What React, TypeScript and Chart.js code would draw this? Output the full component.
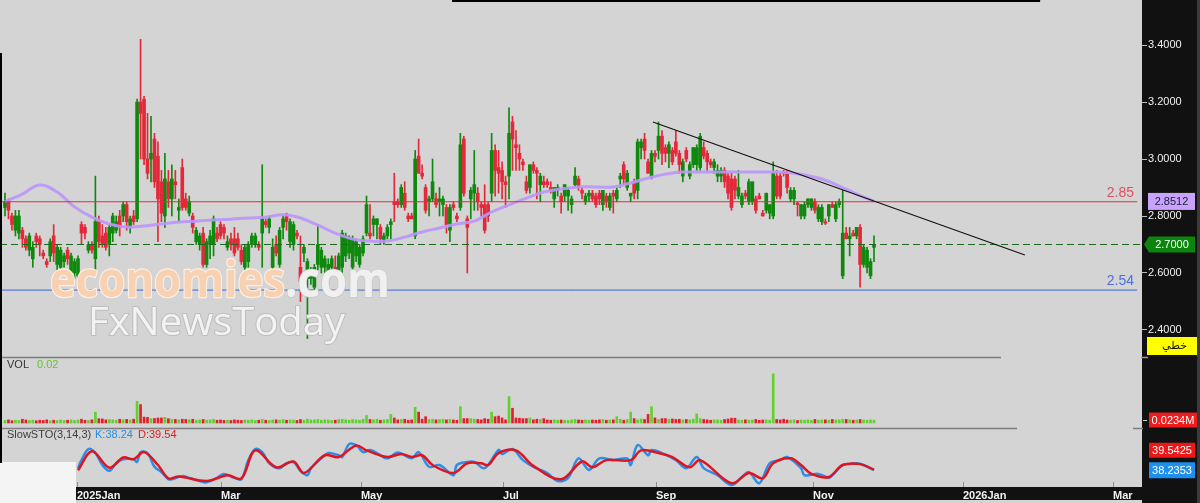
import React, { useEffect, useRef } from "react";
import { Chart, registerables } from "chart.js";

Chart.register(...registerables);
Chart.defaults.font.family = '"Liberation Sans", Arial, sans-serif';

// ---------- DATA ----------
// [open, high, low, close] per trading session (index 0 = mid Dec 2024)
const candles: [number, number, number, number][] = [
  [2.83,2.88,2.80,2.85],[2.85,2.86,2.79,2.82],[2.80,2.81,2.75,2.77],[2.75,2.82,2.73,2.80],[2.74,2.82,2.72,2.80],
  [2.75,2.76,2.69,2.72],[2.72,2.73,2.68,2.69],[2.68,2.74,2.66,2.73],[2.65,2.71,2.62,2.69],[2.73,2.74,2.69,2.71],
  [2.72,2.73,2.66,2.70],[2.67,2.68,2.65,2.66],[2.64,2.65,2.62,2.63],[2.66,2.72,2.64,2.71],[2.73,2.77,2.64,2.67],
  [2.63,2.70,2.61,2.69],[2.62,2.69,2.60,2.68],[2.64,2.67,2.62,2.66],[2.68,2.69,2.63,2.65],[2.60,2.67,2.59,2.66],
  [2.60,2.65,2.58,2.64],[2.59,2.66,2.58,2.65],[2.77,2.78,2.70,2.74],[2.76,2.77,2.72,2.74],[2.68,2.71,2.67,2.70],
  [2.70,2.71,2.67,2.68],[2.65,2.94,2.61,2.78],[2.78,2.80,2.69,2.71],[2.73,2.77,2.69,2.70],[2.74,2.76,2.68,2.69],
  [2.70,2.77,2.66,2.76],[2.74,2.81,2.71,2.80],[2.75,2.80,2.74,2.78],[2.80,2.82,2.73,2.76],[2.80,2.85,2.78,2.84],
  [2.84,2.85,2.75,2.78],[2.76,2.80,2.74,2.79],[2.80,2.82,2.77,2.78],[2.79,3.21,2.78,3.20],[3.20,3.42,3.00,3.16],
  [3.21,3.22,2.98,3.00],[3.00,3.16,2.93,2.95],[3.00,3.15,2.92,3.02],[3.07,3.09,2.90,2.92],[3.01,3.06,2.71,2.86],
  [2.92,2.96,2.78,2.81],[2.80,3.02,2.76,2.93],[2.92,2.96,2.83,2.86],[2.86,2.98,2.80,2.93],[2.92,2.96,2.86,2.91],
  [2.82,2.86,2.78,2.83],[2.97,3.00,2.82,2.83],[2.86,2.88,2.82,2.83],[2.81,2.87,2.80,2.85],[2.80,2.81,2.74,2.76],
  [2.71,2.76,2.70,2.75],[2.70,2.74,2.68,2.73],[2.74,2.76,2.62,2.63],[2.63,2.72,2.62,2.71],[2.70,2.75,2.65,2.73],
  [2.70,2.80,2.66,2.79],[2.74,2.76,2.71,2.72],[2.77,2.78,2.72,2.73],[2.76,2.77,2.72,2.74],[2.69,2.73,2.68,2.71],
  [2.72,2.74,2.68,2.70],[2.72,2.76,2.66,2.67],[2.72,2.74,2.68,2.69],[2.68,2.70,2.63,2.64],[2.62,2.70,2.60,2.69],
  [2.64,2.71,2.62,2.70],[2.70,2.74,2.69,2.73],[2.70,2.74,2.69,2.73],[2.70,2.71,2.68,2.69],[2.74,2.98,2.62,2.79],
  [2.78,2.79,2.76,2.77],[2.76,2.80,2.74,2.79],[2.62,2.72,2.60,2.69],[2.70,2.73,2.66,2.67],[2.63,2.76,2.62,2.75],
  [2.76,2.80,2.72,2.79],[2.80,2.81,2.75,2.78],[2.71,2.79,2.69,2.78],[2.70,2.78,2.68,2.77],[2.74,2.75,2.72,2.73],
  [2.62,2.73,2.50,2.57],[2.67,2.70,2.64,2.69],[2.58,2.65,2.37,2.64],[2.58,2.62,2.56,2.61],[2.55,2.63,2.54,2.62],
  [2.63,2.77,2.61,2.70],[2.62,2.69,2.60,2.68],[2.62,2.66,2.60,2.65],[2.58,2.65,2.56,2.63],[2.62,2.66,2.60,2.65],
  [2.62,2.66,2.60,2.61],[2.61,2.67,2.59,2.66],[2.62,2.75,2.60,2.74],[2.66,2.74,2.64,2.73],[2.67,2.73,2.65,2.72],
  [2.62,2.73,2.61,2.72],[2.66,2.72,2.64,2.71],[2.63,2.70,2.62,2.69],[2.67,2.73,2.66,2.72],[2.74,2.87,2.73,2.84],
  [2.74,2.84,2.72,2.73],[2.77,2.80,2.73,2.79],[2.77,2.79,2.72,2.79],[2.76,2.77,2.70,2.72],[2.71,2.74,2.70,2.73],
  [2.73,2.77,2.72,2.76],[2.77,2.79,2.72,2.78],[2.85,2.95,2.78,2.84],[2.85,2.86,2.83,2.84],[2.84,2.91,2.83,2.90],
  [2.88,2.92,2.82,2.83],[2.80,2.81,2.78,2.79],[2.80,2.81,2.79,2.79],[2.73,3.03,2.72,3.00],[3.01,3.07,2.95,2.95],
  [2.95,2.98,2.93,2.94],[2.90,2.91,2.81,2.82],[2.85,2.87,2.80,2.86],[2.86,3.00,2.85,2.92],[2.86,2.88,2.83,2.84],
  [2.85,2.90,2.80,2.86],[2.84,2.87,2.80,2.86],[2.83,2.84,2.74,2.77],[2.75,2.84,2.71,2.83],[2.84,2.85,2.82,2.83],
  [2.80,2.81,2.78,2.79],[2.83,3.09,2.82,3.05],[3.07,3.08,2.87,2.88],[2.79,2.80,2.60,2.76],[2.86,2.90,2.79,2.89],
  [2.88,3.03,2.82,2.91],[2.88,2.90,2.82,2.85],[2.84,2.85,2.80,2.83],[2.84,2.91,2.74,2.75],[2.84,2.85,2.78,2.80],
  [2.88,3.09,2.85,3.03],[3.03,3.05,2.87,2.96],[2.97,3.03,2.88,2.95],[2.96,2.99,2.86,2.92],[2.92,2.94,2.83,2.91],
  [2.94,3.18,2.86,3.09],[3.13,3.15,2.96,3.07],[3.05,3.10,2.96,3.04],[3.02,3.05,2.96,3.00],[2.99,3.00,2.96,2.98],
  [2.92,2.94,2.88,2.89],[2.90,2.98,2.88,2.98],[2.98,2.99,2.95,2.96],[2.96,2.97,2.86,2.95],[2.91,2.95,2.85,2.94],
  [2.92,2.94,2.90,2.91],[2.92,2.93,2.90,2.91],[2.90,2.92,2.88,2.89],[2.86,2.90,2.83,2.90],[2.89,2.91,2.87,2.90],
  [2.87,2.88,2.81,2.85],[2.87,2.91,2.85,2.91],[2.87,2.90,2.82,2.89],[2.84,2.87,2.81,2.86],[2.91,2.97,2.90,2.94],
  [2.93,2.94,2.89,2.90],[2.89,2.90,2.86,2.88],[2.85,2.88,2.84,2.87],[2.87,2.89,2.85,2.88],[2.88,2.89,2.85,2.86],
  [2.87,2.88,2.83,2.84],[2.88,2.89,2.84,2.86],[2.84,2.89,2.82,2.89],[2.87,2.88,2.83,2.85],[2.83,2.88,2.82,2.87],
  [2.88,2.89,2.81,2.87],[2.86,2.90,2.85,2.89],[2.93,2.95,2.90,2.94],[2.98,2.99,2.91,2.93],[2.90,2.96,2.89,2.95],
  [2.87,2.88,2.85,2.88],[2.92,2.93,2.86,2.88],[2.89,3.07,2.86,3.06],[3.04,3.07,3.00,3.06],[3.07,3.09,3.00,3.03],
  [2.99,3.00,2.95,2.95],[2.94,3.03,2.93,3.02],[3.02,3.03,2.99,3.01],[3.03,3.13,3.00,3.08],[3.08,3.10,2.98,3.02],
  [3.04,3.05,2.99,3.02],[3.02,3.06,2.97,3.05],[3.03,3.04,2.98,2.99],[3.06,3.10,3.01,3.02],[3.02,3.03,2.95,2.98],
  [2.94,3.00,2.92,2.99],[3.03,3.04,2.99,3.00],[2.94,2.99,2.93,2.98],[2.98,3.04,2.97,3.04],[2.98,3.05,2.96,3.04],
  [2.97,3.09,2.96,3.08],[3.04,3.06,3.00,3.01],[3.02,3.03,2.96,2.99],[2.99,3.00,2.97,2.98],[2.97,3.00,2.95,2.99],
  [2.94,2.98,2.92,2.96],[2.94,2.97,2.92,2.96],[2.96,2.97,2.90,2.92],[2.94,2.95,2.86,2.88],[2.93,2.95,2.82,2.83],
  [2.93,2.94,2.86,2.89],[2.87,2.96,2.86,2.90],[2.84,2.88,2.83,2.87],[2.88,2.89,2.86,2.87],[2.85,2.93,2.84,2.92],
  [2.85,2.92,2.84,2.92],[2.86,2.87,2.81,2.82],[2.87,2.88,2.86,2.86],[2.81,2.82,2.80,2.80],[2.82,2.88,2.81,2.88],
  [2.81,2.84,2.79,2.84],[2.80,2.99,2.79,2.95],[2.94,2.96,2.86,2.87],[2.94,2.95,2.86,2.87],[2.955,2.96,2.94,2.95],
  [2.95,2.96,2.88,2.90],[2.86,2.90,2.85,2.89],[2.86,2.90,2.84,2.89],[2.845,2.85,2.80,2.84],[2.80,2.84,2.79,2.84],
  [2.80,2.85,2.79,2.84],[2.84,2.86,2.83,2.86],[2.83,2.86,2.82,2.86],[2.85,2.86,2.81,2.82],[2.79,2.84,2.78,2.83],
  [2.78,2.84,2.77,2.83],[2.78,2.79,2.77,2.775],[2.80,2.84,2.78,2.84],[2.84,2.85,2.83,2.83],[2.79,2.85,2.78,2.84],
  [2.84,2.86,2.83,2.85],[2.59,2.89,2.58,2.74],[2.74,2.76,2.72,2.72],[2.72,2.76,2.66,2.73],[2.74,2.75,2.73,2.73],
  [2.73,2.76,2.72,2.76],[2.76,2.77,2.55,2.63],[2.63,2.70,2.62,2.69],[2.62,2.69,2.60,2.68],[2.59,2.65,2.58,2.64],
  [2.69,2.73,2.64,2.70],
];

// volume in millions, one per session
const volumes: number[] = [
  0.02,0.025,0.018,0.022,0.02,0.03,0.024,0.02,0.022,0.018,
  0.022,0.02,0.025,0.018,0.022,0.02,0.024,0.02,0.022,0.025,
  0.02,0.024,0.03,0.022,0.02,0.025,0.086,0.034,0.032,0.025,
  0.028,0.025,0.022,0.03,0.026,0.028,0.024,0.03,0.172,0.146,
  0.047,0.045,0.035,0.036,0.04,0.04,0.045,0.034,0.03,0.028,
  0.025,0.03,0.028,0.025,0.03,0.022,0.024,0.028,0.022,0.025,
  0.03,0.022,0.024,0.02,0.022,0.02,0.025,0.022,0.02,0.024,
  0.022,0.025,0.02,0.022,0.03,0.022,0.02,0.024,0.025,0.022,
  0.028,0.022,0.025,0.024,0.02,0.028,0.022,0.03,0.024,0.025,
  0.028,0.022,0.025,0.024,0.02,0.022,0.028,0.03,0.025,0.022,
  0.028,0.024,0.022,0.03,0.06,0.028,0.025,0.03,0.022,0.025,
  0.028,0.068,0.04,0.025,0.028,0.03,0.022,0.025,0.125,0.086,
  0.03,0.05,0.028,0.03,0.025,0.028,0.03,0.025,0.028,0.024,
  0.022,0.13,0.035,0.035,0.035,0.03,0.028,0.025,0.035,0.03,
  0.086,0.05,0.055,0.04,0.025,0.21,0.117,0.04,0.038,0.035,
  0.035,0.04,0.025,0.03,0.028,0.035,0.024,0.022,0.025,0.022,
  0.024,0.022,0.02,0.025,0.028,0.024,0.022,0.025,0.022,0.024,
  0.022,0.025,0.028,0.022,0.024,0.025,0.05,0.03,0.022,0.028,
  0.086,0.035,0.025,0.032,0.028,0.068,0.13,0.04,0.028,0.035,
  0.035,0.03,0.032,0.028,0.03,0.024,0.028,0.025,0.03,0.072,
  0.035,0.028,0.025,0.022,0.025,0.024,0.022,0.028,0.032,0.038,
  0.038,0.024,0.022,0.025,0.022,0.024,0.028,0.022,0.024,0.025,
  0.022,0.39,0.028,0.025,0.03,0.024,0.022,0.025,0.02,0.024,
  0.022,0.025,0.02,0.028,0.022,0.024,0.025,0.022,0.028,0.024,
  0.025,0.03,0.028,0.025,0.022,0.024,0.028,0.024,0.022,0.025,
  0.0234,
];

// moving average, one reading every 5 sessions
const maStep = 5;
const maValues: number[] = [
  2.85,2.877,2.909,2.884,2.832,2.796,2.772,2.761,2.765,2.772,
  2.779,2.782,2.786,2.789,2.793,2.796,2.804,2.793,2.768,2.740,
  2.719,2.712,2.712,2.726,2.744,2.758,2.772,2.782,2.814,2.839,
  2.863,2.884,2.895,2.902,2.902,2.902,2.916,2.933,2.947,2.954,
  2.954,2.954,2.954,2.954,2.954,2.953,2.944,2.930,2.905,2.877,
  2.8512,
];

// Slow stochastic readings (session index, value)
const kIdx = [21,22,24,26,28,30,32,34,37,38,39,41,43,45,47,48,51,53,56,58,61,63,66,68,70,72,74,76,79,81,83,85,87,88,91,93,96,97,99,101,103,105,107,110,113,117,119,122,125,129,130,133,135,138,142,143,146,149,152,156,159,162,165,168,171,175,179,180,182,185,186,189,193,196,199,201,205,209,212,214,217,220,223,225,229,230,234,237,238,241,243,245,247,250];
const kVals = [42.5,61,86,77,50,37,54,63,63,57,79,77,46,34,18,18,25,21,14,11,21,30,21,18,61,86,79,54,43,54,57,37,27,43,65,77,72,68,97,95,79,84,77,65,78,65,79,46,50,27,50,57,57,43,84,75,86,61,46,32,14,21,65,39,65,61,65,50,95,72,84,77,61,43,68,43,27,5,23,34,9,54,61,68,43,27,30,21,27,50,52,54,50,38.24];
const dIdx = [21,25,30,34,37,40,44,47,50,58,64,68,72,78,83,86,92,96,101,104,110,114,117,120,123,129,133,137,139,142,147,152,160,166,169,173,180,183,188,192,197,200,209,214,218,221,226,229,232,237,241,246,250];
const dVals = [38,81,44,67,63,79,50,20,24,14,27,20,83,45,58,32,72,68,94,83,68,75,68,72,50,32,54,54,50,77,83,48,18,58,45,61,61,83,77,68,45,61,9,32,20,54,65,50,30,23,50,52,39.54];

// axis ticks (session index of month starts)
const monthTickIdx = [20.71, 62.14, 102.4, 143.27, 187.28, 232.45, 275.6, 318.76];
const monthLabels = ["2025Jan", "Mar", "May", "Jul", "Sep", "Nov", "2026Jan", "Mar"];
const priceTicks = [2.4, 2.6, 2.8, 3.0, 3.2, 3.4];

// drawn levels / objects
const levelResist = 2.85;
const levelSupport = 2.54;
const lastPrice = 2.70;
const maLast = 2.8512;
const volLast = 0.0234;
const kLast = 38.2353;
const dLast = 39.5425;
const trendIdx = [186.4, 293.4];
const trendVal = [3.13, 2.663];
const topLineIdx = [128.6, 297.8];
const topLineVal = 3.555;

// scale ranges (panels share the canvas height)
const X_MIN = -1.44, X_MAX = 327.1, LEVEL_END = 325.7;
const P_MIN = 1.849, P_MAX = 3.558;
const V_MIN = -0.508, V_MAX = 3.357;
const S_MIN = 0.5, S_MAX = 1097.3;

const noPad = (s: any) => {
  s.paddingTop = 0;
  s.paddingBottom = 0;
  s.paddingLeft = 0;
  s.paddingRight = 0;
};

export default function App() {
  const ref = useRef<HTMLCanvasElement>(null);

  useEffect(() => {
    document.body.style.margin = "0";
    const canvas = ref.current!;
    const GREEN = "#0e890e";
    const RED = "#e3283a";
    const up = candles.map((c) => c[3] >= c[0]);
    const cColors = up.map((u) => (u ? GREEN : RED));
    const vColors = up.map((u) => (u ? "#62d12f" : "#e21f2b"));
    const hl = (y: number, x2: number) => [{ x: X_MIN, y }, { x: x2, y }];

    const bgPlugin = {
      id: "bg",
      beforeDraw(chart: any) {
        const ctx = chart.ctx;
        ctx.save();
        ctx.fillStyle = "#d4d4d4";
        ctx.fillRect(0, 0, 1200, 503);
        ctx.fillStyle = "#111111";
        ctx.fillRect(1142, 0, 58, 503);
        ctx.fillStyle = "#3a3a3a";
        ctx.fillRect(1197, 0, 3, 503);
        ctx.fillStyle = "#111111";
        ctx.fillRect(76, 487, 1066, 13);
        ctx.restore();
      },
    };

    const watermark = {
      id: "wm",
      afterDatasetsDraw(chart: any) {
        const ctx = chart.ctx;
        ctx.save();
        ctx.font = 'bold 51px "Open Sans", Lato, sans-serif';
        const t1 = "economies";
        const t2 = ".com";
        const w1 = ctx.measureText(t1).width;
        const w2 = ctx.measureText(t2).width;
        const sx = 340 / (w1 + w2);
        ctx.translate(50, 297);
        ctx.scale(sx, 1);
        ctx.lineJoin = "round";
        ctx.lineWidth = 2.5;
        ctx.strokeStyle = "#fdf0e6";
        ctx.fillStyle = "#f8d0b2";
        ctx.strokeText(t1, 0, 0);
        ctx.fillText(t1, 0, 0);
        ctx.strokeStyle = "#c6c6c6";
        ctx.fillStyle = "#f0f0f0";
        ctx.lineWidth = 1.5;
        ctx.strokeText(t2, w1, 0);
        ctx.fillText(t2, w1, 0);
        ctx.restore();

        ctx.save();
        ctx.font = '39px "Open Sans", Lato, sans-serif';
        const t3 = "FxNewsToday";
        const w3 = ctx.measureText(t3).width;
        ctx.translate(88, 335);
        ctx.scale(257 / w3, 1);
        ctx.lineJoin = "round";
        ctx.lineWidth = 2;
        ctx.strokeStyle = "#bdbdbd";
        ctx.fillStyle = "#f3f3f3";
        ctx.strokeText(t3, 0, 0);
        ctx.fillText(t3, 0, 0);
        ctx.restore();
      },
    };

    const overlay = {
      id: "overlay",
      afterDraw(chart: any) {
        const ctx = chart.ctx;
        const ys = chart.scales.y;
        const yv = chart.scales.yVol;
        const yst = chart.scales.ySto;
        const xs = chart.scales.x;
        const seg = (x1: number, y1: number, x2: number, y2: number, c: string, w: number) => {
          ctx.beginPath();
          ctx.strokeStyle = c;
          ctx.lineWidth = w;
          ctx.moveTo(x1, y1);
          ctx.lineTo(x2, y2);
          ctx.stroke();
        };
        const box = (x: number, yc: number, w: number, h: number, fill: string, text: string, tc: string) => {
          ctx.fillStyle = fill;
          ctx.fillRect(x, yc - h / 2, w, h);
          ctx.fillStyle = tc;
          ctx.font = '11px "Liberation Sans", Arial, sans-serif';
          ctx.textAlign = "center";
          ctx.textBaseline = "middle";
          ctx.fillText(text, x + w / 2, yc + 0.5);
        };
        ctx.save();
        // panel separators
        seg(0, 357.5, 1001, 357.5, "#7e7e7e", 1.5);
        seg(1141, 357.5, 1148, 357.5, "#9a9a9a", 1.5);
        seg(0, 428.5, 1017, 428.5, "#7e7e7e", 1.5);
        seg(1133, 428.5, 1143, 428.5, "#7e7e7e", 1.5);

        // month tick marks
        monthTickIdx.forEach((v) => {
          const px = Math.round(xs.getPixelForValue(v)) + 0.5;
          seg(px, 482, px, 487, "#8c8c8c", 1);
        });

        // level labels
        ctx.font = '14px "Liberation Sans", Arial, sans-serif';
        ctx.textAlign = "right";
        ctx.textBaseline = "alphabetic";
        ctx.fillStyle = "#e0505f";
        ctx.fillText(String(levelResist), 1134, ys.getPixelForValue(levelResist) - 5);
        ctx.fillStyle = "#4d6fe0";
        ctx.fillText(String(levelSupport), 1134, ys.getPixelForValue(levelSupport) - 5);

        // panel titles
        ctx.font = '11px "Liberation Sans", Arial, sans-serif';
        ctx.textAlign = "left";
        ctx.fillStyle = "#333333";
        ctx.fillText("VOL", 7, 368);
        ctx.fillStyle = "#5cc92c";
        ctx.fillText(volLast.toFixed(2), 37, 368);
        ctx.fillStyle = "#3c3c3c";
        ctx.fillText("SlowSTO(3,14,3)", 7, 438);
        ctx.fillStyle = "#2a8de6";
        ctx.fillText("K:" + kLast.toFixed(2), 95, 438);
        ctx.fillStyle = "#e01b1b";
        ctx.fillText("D:" + dLast.toFixed(2), 138, 438);

        // right side value boxes
        box(1148, ys.getPixelForValue(maLast), 47, 17, "#c9a3fb", maLast.toFixed(4), "#1b1b3a");
        const yl = ys.getPixelForValue(lastPrice);
        ctx.beginPath();
        ctx.moveTo(1144, yl);
        ctx.lineTo(1149, yl - 8);
        ctx.lineTo(1195, yl - 8);
        ctx.lineTo(1195, yl + 8);
        ctx.lineTo(1149, yl + 8);
        ctx.closePath();
        ctx.fillStyle = "#0b850b";
        ctx.fill();
        ctx.fillStyle = "#ffffff";
        ctx.textAlign = "center";
        ctx.textBaseline = "middle";
        ctx.fillText(lastPrice.toFixed(4), 1172, yl + 0.5);

        // linear-scale badge
        ctx.fillStyle = "#ffff00";
        ctx.fillRect(1147, 337, 50, 18);
        ctx.fillStyle = "#111111";
        ctx.font = '11px "DejaVu Sans", "Noto Sans", sans-serif';
        ctx.textAlign = "right";
        ctx.fillText("خطي", 1187, 346.5);

        const yvl = yv.getPixelForValue(volLast);
        seg(1143, yvl + 0.5, 1147, yvl + 0.5, "#d0d0d0", 1);
        box(1149, yvl, 48, 15, "#ee1c1c", volLast.toFixed(4) + "M", "#ffffff");

        const ykp = yst.getPixelForValue(kLast);
        box(1149, ykp, 46, 16, "#1d8fee", kLast.toFixed(4), "#ffffff");
        box(1149, ykp - 20, 46, 15, "#ee1616", dLast.toFixed(4), "#ffffff");

        // window frame pieces
        ctx.fillStyle = "#f4f4f4";
        ctx.fillRect(0, 462, 76, 41);
        ctx.fillStyle = "#000000";
        ctx.fillRect(0, 53, 2, 410);
        ctx.restore();
      },
    };

    const chart = new Chart(canvas, {
      type: "bar",
      data: {
        datasets: [
          {
            type: "line",
            data: [{ x: topLineIdx[0], y: topLineVal }, { x: topLineIdx[1], y: topLineVal }],
            borderColor: "#000000",
            borderWidth: 2.5,
            pointRadius: 0,
            yAxisID: "y",
            clip: 4,
            order: 1,
          },
          {
            type: "line",
            data: [{ x: trendIdx[0], y: trendVal[0] }, { x: trendIdx[1], y: trendVal[1] }],
            borderColor: "#111111",
            borderWidth: 1.2,
            pointRadius: 0,
            yAxisID: "y",
            order: 1,
          },
          {
            type: "line",
            data: hl(levelResist, LEVEL_END),
            borderColor: "#dd2f3e",
            borderWidth: 1,
            pointRadius: 0,
            yAxisID: "y",
            order: 2,
          },
          {
            type: "line",
            data: hl(levelSupport, LEVEL_END),
            borderColor: "#3a66d8",
            borderWidth: 1,
            pointRadius: 0,
            yAxisID: "y",
            order: 2,
          },
          {
            type: "line",
            data: hl(lastPrice, X_MAX),
            borderColor: "#1b6b1b",
            borderWidth: 1,
            borderDash: [7, 4],
            pointRadius: 0,
            yAxisID: "y",
            order: 2,
          },
          {
            type: "line",
            data: maValues.map((v, k) => ({ x: k * maStep, y: v })),
            borderColor: "rgba(186,150,250,0.9)",
            borderWidth: 3,
            pointRadius: 0,
            tension: 0.4,
            yAxisID: "y",
            order: 3,
          },
          {
            type: "bar",
            data: candles.map((c, i) => ({ x: i, y: [c[0], c[3]] })),
            backgroundColor: cColors,
            barThickness: 3,
            minBarLength: 1,
            grouped: false,
            borderWidth: 0,
            yAxisID: "y",
            order: 5,
          },
          {
            type: "bar",
            data: candles.map((c, i) => ({ x: i, y: [c[2], c[1]] })),
            backgroundColor: cColors,
            barThickness: 1,
            grouped: false,
            borderWidth: 0,
            yAxisID: "y",
            order: 6,
          },
          {
            type: "bar",
            data: volumes.map((v, i) => ({ x: i, y: v })),
            backgroundColor: vColors,
            barThickness: 2,
            grouped: false,
            borderWidth: 0,
            yAxisID: "yVol",
            order: 7,
          },
          {
            type: "line",
            data: dIdx.map((x, j) => ({ x, y: dVals[j] })),
            borderColor: "#e0141e",
            borderWidth: 2.5,
            pointRadius: 0,
            tension: 0.35,
            yAxisID: "ySto",
            order: 3,
          },
          {
            type: "line",
            data: kIdx.map((x, j) => ({ x, y: kVals[j] })),
            borderColor: "#2b8ee8",
            borderWidth: 2.5,
            pointRadius: 0,
            tension: 0.35,
            yAxisID: "ySto",
            order: 4,
          },
        ] as any,
      },
      options: {
        responsive: false,
        maintainAspectRatio: false,
        animation: false,
        events: [],
        layout: { padding: 0 },
        plugins: { legend: { display: false }, tooltip: { enabled: false } },
        scales: {
          x: {
            type: "linear",
            min: X_MIN,
            max: X_MAX,
            offset: false,
            bounds: "data",
            position: "bottom",
            grid: { display: false, drawTicks: false },
            border: { display: false },
            afterBuildTicks: (s: any) => {
              s.ticks = monthTickIdx.map((v) => ({ value: v }));
            },
            afterFit: (s: any) => {
              s.height = 16;
              noPad(s);
            },
            ticks: {
              align: "start",
              color: "#f2f2f2",
              font: { size: 11, weight: "bold" },
              padding: 2,
              maxRotation: 0,
              minRotation: 0,
              autoSkip: false,
              callback: (_v: any, i: number) => monthLabels[i],
            },
          },
          y: {
            type: "linear",
            position: "right",
            min: P_MIN,
            max: P_MAX,
            bounds: "data",
            grid: { drawOnChartArea: false, drawTicks: true, tickLength: 5, color: "#bdbdbd" },
            border: { display: false },
            afterBuildTicks: (s: any) => {
              s.ticks = priceTicks.map((v) => ({ value: v }));
            },
            afterFit: (s: any) => {
              s.width = 58;
              noPad(s);
            },
            ticks: {
              color: "#f0f0f0",
              font: { size: 11 },
              padding: 1,
              callback: (v: any) => Number(v).toFixed(4),
            },
          },
          yVol: { type: "linear", display: false, min: V_MIN, max: V_MAX, bounds: "data" },
          ySto: { type: "linear", display: false, min: S_MIN, max: S_MAX, bounds: "data" },
        },
      } as any,
      plugins: [bgPlugin, watermark, overlay],
    });
    return () => chart.destroy();
  }, []);

  return (
    <div style={{ position: "absolute", left: 0, top: 0, width: 1200, height: 503 }}>
      <canvas ref={ref} width={1200} height={503} style={{ display: "block", width: 1200, height: 503 }} />
    </div>
  );
}
